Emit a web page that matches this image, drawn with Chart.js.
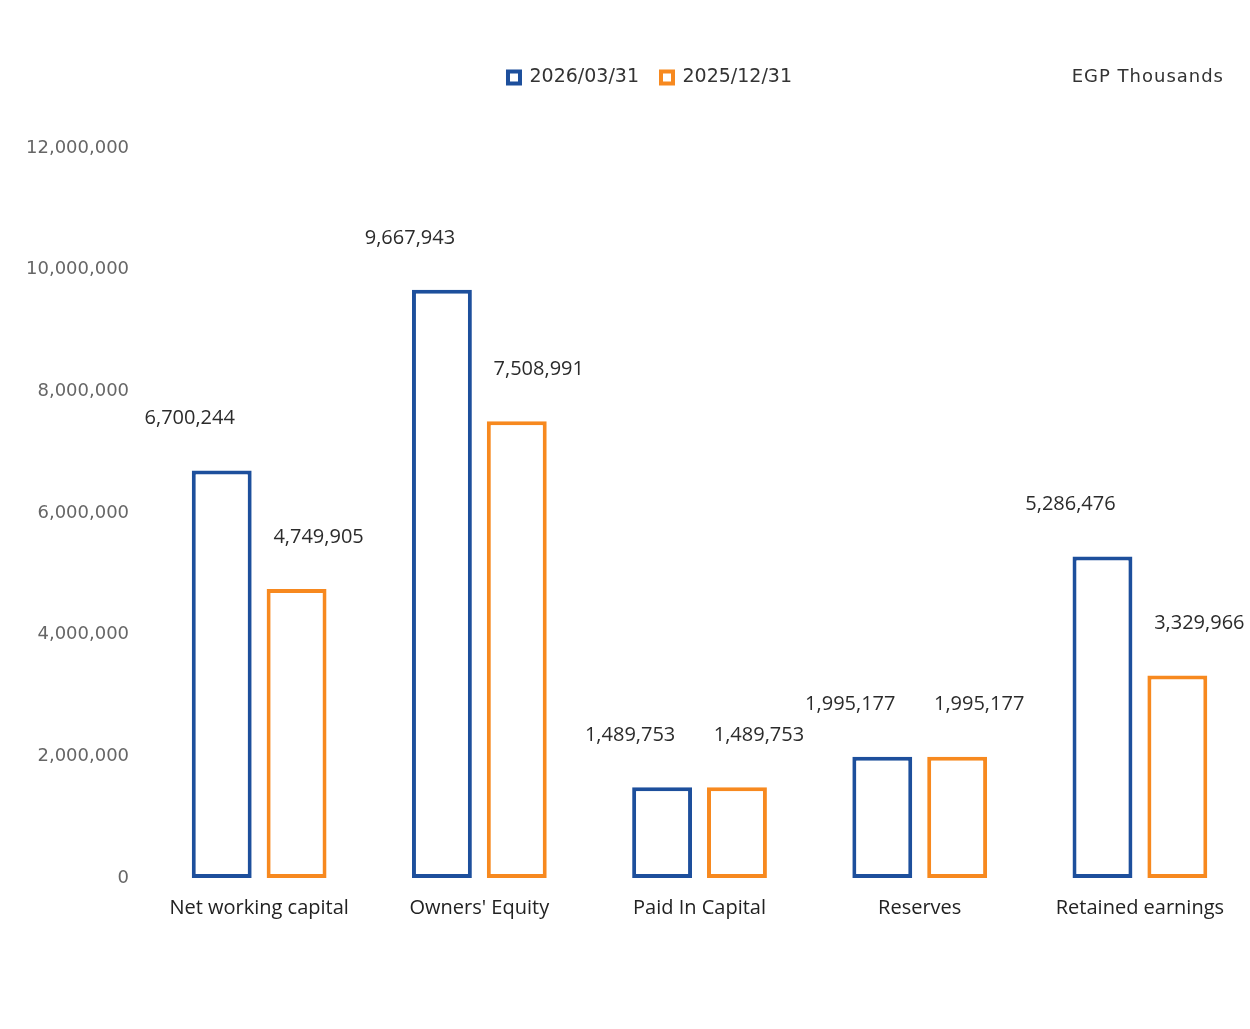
<!DOCTYPE html>
<html>
<head>
<meta charset="utf-8">
<script src="https://cdn.jsdelivr.net/npm/chart.js@4.4.1/dist/chart.umd.min.js"></script>
<style>
  html, body { margin: 0; padding: 0; background: #fff; }
  #wrap { position: relative; width: 1250px; height: 1029px; }
</style>
</head>
<body>
<div id="wrap"><canvas id="myChart"></canvas></div>
<script>
// data
const categories = ['Net working capital', "Owners' Equity", 'Paid In Capital', 'Reserves', 'Retained earnings'];
const seriesNames = ['2026/03/31', '2025/12/31'];
const values2026 = [6700244, 9667943, 1489753, 1995177, 5286476];
const values2025 = [4749905, 7508991, 1489753, 1995177, 3329966];
const yTicks = [0, 2000000, 4000000, 6000000, 8000000, 10000000, 12000000];
const unitLabel = 'EGP Thousands';

const blue = '#1d4f9c';
const orange = '#f7891f';

// value labels above each bar (blue ones sit left, orange ones right)
const labelShift = [-32, 22];
const valueLabels = {
  id: 'valueLabels',
  afterDatasetsDraw(chart) {
    const ctx = chart.ctx;
    ctx.save();
    ctx.font = '20px "Open Sans"';
    ctx.fillStyle = '#2b2b2b';
    ctx.textAlign = 'center';
    ctx.textBaseline = 'middle';
    chart.data.datasets.forEach((ds, i) => {
      chart.getDatasetMeta(i).data.forEach((bar, j) => {
        ctx.fillText(ds.data[j].toLocaleString('en-US'), bar.x + labelShift[i], bar.y - 52);
      });
    });
    ctx.restore();
  }
};

// unit text top right
const unitText = {
  id: 'unitText',
  afterDraw(chart) {
    const ctx = chart.ctx;
    ctx.save();
    ctx.font = '18px "DejaVu Sans"';
    ctx.letterSpacing = '1px';
    ctx.fillStyle = '#333';
    ctx.textAlign = 'right';
    ctx.textBaseline = 'middle';
    ctx.fillText(unitLabel, 1224, 77);
    ctx.restore();
  }
};

// extra room under the legend, and nudge it right a bit
const legendSpace = {
  id: 'legendSpace',
  beforeInit(chart) {
    const fit = chart.legend.fit;
    chart.legend.fit = function () {
      fit.bind(chart.legend)();
      this.height += 51;
    };
  },
  afterLayout(chart) {
    chart.legend.left += 22;
    chart.legend.right += 22;
  }
};

const ctx = document.getElementById('myChart');
const myChart = new Chart(ctx, {
  type: 'bar',
  data: {
    labels: categories,
    datasets: [{
      label: seriesNames[0],
      data: values2026,
      backgroundColor: '#fff',
      borderColor: blue,
      borderWidth: 4,
      borderSkipped: false,
      barPercentage: 0.8,
      categoryPercentage: 0.68
    }, {
      label: seriesNames[1],
      data: values2025,
      backgroundColor: '#fff',
      borderColor: orange,
      borderWidth: 4,
      borderSkipped: false,
      barPercentage: 0.8,
      categoryPercentage: 0.68
    }]
  },
  options: {
    responsive: true,
    maintainAspectRatio: false,
    animation: false,
    layout: { padding: { top: 46, left: 6, right: 0, bottom: 91 } },
    plugins: {
      legend: {
        position: 'top',
        labels: {
          boxWidth: 12,
          boxHeight: 12,
          padding: 22,
          color: '#333',
          font: { family: 'DejaVu Sans', size: 19 }
        }
      },
      tooltip: { enabled: false }
    },
    scales: {
      x: {
        grid: { display: false, drawTicks: false },
        border: { display: false },
        ticks: {
          padding: 18,
          color: '#222',
          font: { family: 'Open Sans', size: 20 }
        }
      },
      y: {
        min: 0,
        max: 12000000,
        afterBuildTicks(axis) { axis.ticks = yTicks.map(v => ({ value: v })); },
        grid: { display: false, drawTicks: false },
        border: { display: false },
        ticks: {
          padding: 20,
          color: '#666',
          font: { family: 'DejaVu Sans', size: 18 },
          callback: v => v.toLocaleString('en-US')
        }
      }
    }
  },
  plugins: [valueLabels, unitText, legendSpace]
});
</script>
</body>
</html>
